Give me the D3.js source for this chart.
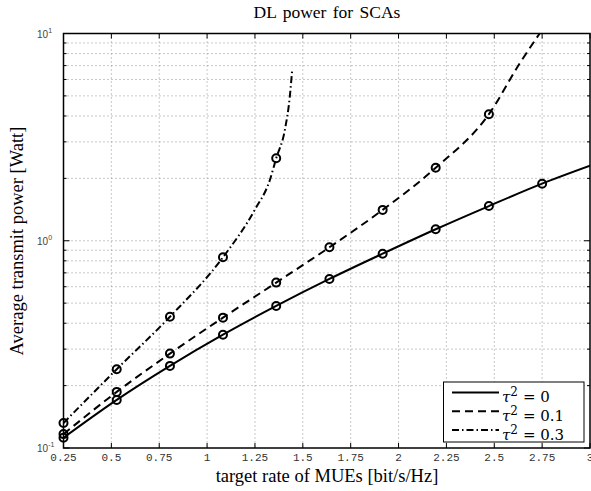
<!DOCTYPE html>
<html>
<head>
<meta charset="utf-8">
<script src="https://cdn.jsdelivr.net/npm/d3@7"></script>
<style>
  body { margin: 0; background: #fff; }
  svg { display: block; }
</style>
</head>
<body>
<svg id="chart" width="591" height="491"></svg>
<script>
// x positions where the markers sit (linspace 0.25 .. 2.75)
var markerX = [0.25, 0.528, 0.806, 1.083, 1.361, 1.639, 1.917, 2.194, 2.472, 2.75];

// tau^2 = 0 (solid)
var xTau0 = [0.25, 0.528, 0.806, 1.083, 1.361, 1.639, 1.917, 2.194, 2.472, 2.75, 3.0];
var pTau0 = [0.112, 0.1706, 0.249, 0.352, 0.4847, 0.654, 0.866, 1.136, 1.47, 1.885, 2.30];

// tau^2 = 0.1 (dashed)
var xTau01 = [0.25, 0.528, 0.806, 1.083, 1.361, 1.639, 1.917, 2.194, 2.472, 2.633, 2.737];
var pTau01 = [0.1167, 0.1865, 0.2854, 0.4256, 0.628, 0.930, 1.409, 2.25, 4.08, 7.18, 10.0];

// tau^2 = 0.3 (dash-dot)
var xTau03 = [0.25, 0.528, 0.806, 1.083, 1.249, 1.328, 1.361, 1.406, 1.432, 1.444];
var pTau03 = [0.132, 0.240, 0.430, 0.832, 1.41, 1.965, 2.50, 3.42, 4.96, 6.61];

var xTicks = [0.25, 0.5, 0.75, 1, 1.25, 1.5, 1.75, 2, 2.25, 2.5, 2.75, 3];
var xTickLabels = ['0.25', '0.5', '0.75', '1', '1.25', '1.5', '1.75', '2', '2.25', '2.5', '2.75', '3'];
var yMajor = [0.1, 1, 10];
var yMajorExp = ['-1', '0', '1'];
var legendLabels = ['0', '0.1', '0.3'];

var svg = d3.select('#chart');
var L = 63.5, R = 590, T = 33.5, B = 448;

var x = d3.scaleLinear().domain([0.25, 3]).range([L, R]);
var y = d3.scaleLog().domain([0.1, 10]).range([B, T]);

var yMinor = [];
[0.1, 1].forEach(function(d){
	for (var k = 2; k <= 9; k++) yMinor.push(d * k);
});

// grid (dotted)
var grid = svg.append('g').attr('stroke', '#777').attr('stroke-width', 0.8).attr('stroke-dasharray', '1,3');
grid.selectAll('line.gx')
		.data(xTicks.slice(1, -1))
		.enter().append('line')
		.attr('x1', function(d){ return x(d); })
		.attr('x2', function(d){ return x(d); })
		.attr('y1', T).attr('y2', B);
grid.selectAll('line.gy')
		.data(yMinor.concat([1]))
		.enter().append('line')
		.attr('y1', function(d){ return y(d); })
		.attr('y2', function(d){ return y(d); })
		.attr('x1', L).attr('x2', R);

// ticks, inward, on all four sides
var ticks = svg.append('g').attr('stroke', '#000').attr('stroke-width', 1);
xTicks.forEach(function(d){
	ticks.append('line').attr('x1', x(d)).attr('x2', x(d)).attr('y1', B).attr('y2', B - 5);
	ticks.append('line').attr('x1', x(d)).attr('x2', x(d)).attr('y1', T).attr('y2', T + 5);
});
yMinor.forEach(function(d){
	ticks.append('line').attr('y1', y(d)).attr('y2', y(d)).attr('x1', L).attr('x2', L + 3);
	ticks.append('line').attr('y1', y(d)).attr('y2', y(d)).attr('x1', R).attr('x2', R - 3);
});
yMajor.forEach(function(d){
	ticks.append('line').attr('y1', y(d)).attr('y2', y(d)).attr('x1', L).attr('x2', L + 6);
	ticks.append('line').attr('y1', y(d)).attr('y2', y(d)).attr('x1', R).attr('x2', R - 6);
});

// series
var series = [
	{xs: xTau0, ps: pTau0, dash: null},
	{xs: xTau01, ps: pTau01, dash: '8,5'},
	{xs: xTau03, ps: pTau03, dash: '7,3,1.5,3'}
];

svg.append('clipPath').attr('id', 'clip')
		.append('rect').attr('x', L).attr('y', T).attr('width', R - L).attr('height', B - T);

var line = d3.line()
		.x(function(d){ return x(d[0]); })
		.y(function(d){ return y(d[1]); })
		.curve(d3.curveMonotoneX);

var plot = svg.append('g').attr('clip-path', 'url(#clip)');
series.forEach(function(s){
	var pts = s.xs.map(function(v, i){ return [v, s.ps[i]]; });
	plot.append('path')
			.datum(pts)
			.attr('d', line)
			.attr('fill', 'none')
			.attr('stroke', '#000')
			.attr('stroke-width', 2)
			.attr('stroke-dasharray', s.dash);
	var marks = pts.filter(function(p){ return markerX.indexOf(p[0]) >= 0; });
	svg.append('g').selectAll('circle')
			.data(marks)
			.enter().append('circle')
			.attr('cx', function(d){ return x(d[0]); })
			.attr('cy', function(d){ return y(d[1]); })
			.attr('r', 4)
			.attr('fill', 'none')
			.attr('stroke', '#000')
			.attr('stroke-width', 2);
});

// frame
svg.append('rect')
		.attr('x', L).attr('y', T).attr('width', R - L).attr('height', B - T)
		.attr('fill', 'none').attr('stroke', '#000').attr('stroke-width', 1.5);

// x tick labels
svg.append('g').selectAll('text')
		.data(xTicks)
		.enter().append('text')
		.attr('x', function(d){ return x(d); })
		.attr('y', 461)
		.attr('text-anchor', 'middle')
		.attr('font-family', 'Liberation Mono, DejaVu Sans Mono, monospace')
		.attr('font-size', 11)
		.attr('fill', '#333')
		.text(function(d, i){ return xTickLabels[i]; });

// y tick labels 10^k
yMajor.forEach(function(d, i){
	var t = svg.append('text')
			.attr('x', 37)
			.attr('y', y(d) + 4)
			.attr('font-family', 'Liberation Sans, Arial, sans-serif')
			.attr('font-size', 10)
			.attr('fill', '#444');
	t.append('tspan').text('10');
	t.append('tspan').attr('dy', -5).attr('font-size', 7).text(yMajorExp[i]);
});

// title and axis labels
svg.append('text')
		.attr('x', 327).attr('y', 18)
		.attr('text-anchor', 'middle')
		.attr('font-family', 'Liberation Serif, Times New Roman, serif')
		.attr('font-size', 17.5)
		.attr('word-spacing', 2)
		.text('DL power for SCAs');

svg.append('text')
		.attr('x', 327).attr('y', 482)
		.attr('text-anchor', 'middle')
		.attr('font-family', 'Liberation Serif, Times New Roman, serif')
		.attr('font-size', 18.5)
		.text('target rate of MUEs [bit/s/Hz]');

svg.append('text')
		.attr('transform', 'translate(23,241) rotate(-90)')
		.attr('text-anchor', 'middle')
		.attr('font-family', 'Liberation Serif, Times New Roman, serif')
		.attr('font-size', 18.5)
		.text('Average transmit power [Watt]');

// legend
var lg = svg.append('g');
lg.append('rect')
		.attr('x', 443.5).attr('y', 382).attr('width', 140.5).attr('height', 60)
		.attr('fill', '#fff').attr('stroke', '#000').attr('stroke-width', 1);
series.forEach(function(s, i){
	var ly = 392.5 + i * 18.8;
	lg.append('line')
			.attr('x1', 452).attr('x2', 499)
			.attr('y1', ly).attr('y2', ly)
			.attr('stroke', '#000').attr('stroke-width', 2)
			.attr('stroke-dasharray', s.dash);
	var t = lg.append('text')
			.attr('x', 502).attr('y', ly + 9.5)
			.attr('font-family', 'DejaVu Serif, serif')
			.attr('font-size', 15);
	t.append('tspan').attr('font-style', 'italic').text('τ');
	t.append('tspan').attr('dy', -6).attr('font-size', 12).text('2');
	t.append('tspan').attr('dy', 6).attr('dx', 5).text('= ' + legendLabels[i]);
});
</script>
</body>
</html>
